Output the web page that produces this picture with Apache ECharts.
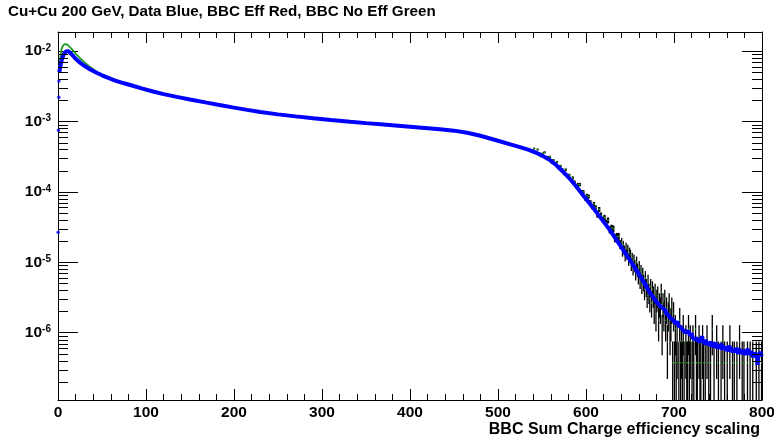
<!DOCTYPE html>
<html>
<head>
<meta charset="utf-8">
<title>BBC Sum Charge efficiency scaling</title>
<script src="https://cdn.jsdelivr.net/npm/echarts@6/dist/echarts.min.js"></script>
<style>
  html, body { margin: 0; padding: 0; background: #ffffff; }
  #chart { width: 774px; height: 447px; }
</style>
</head>
<body>
<div id="chart"></div>
<script>
// ---- axis ranges ----
const X_MIN = 0, X_MAX = 800, X_STEP = 100;
const Y_MIN = 1.107e-7, Y_MAX = 1.862e-2;

const titleText = 'Cu+Cu 200 GeV, Data Blue, BBC Eff Red, BBC No Eff Green';
const xAxisTitle = 'BBC Sum Charge efficiency scaling';

// ---- Data (blue): first bins sitting on the left edge ----
const blueEdgeX = [0.2, 0.5, 0.9, 1.1];
const blueEdgeY = [2.66e-5, 7.5e-4, 2.2e-3, 3.75e-3];

// ---- Data (blue): main curve ----
const blueX = [1.5, 2.3, 3, 4.2, 5.5, 6.8, 8, 9.5, 10.6, 12,
  14, 16.5, 20, 25, 30, 35, 40, 45, 50, 55,
  60, 65, 75, 85, 95, 108, 120, 135, 150, 169,
  185, 200, 215, 230, 250, 270, 290, 310, 332, 350,
  370, 390, 410, 434, 450, 465, 480, 487, 500, 512,
  525, 535, 545, 552, 559, 566, 574, 582, 589, 596,
  603, 610, 618, 627, 635, 642, 650, 657, 665, 672, 680, 685];
const blueY = [5.0e-3, 5.7e-3, 6.3e-3, 7.4e-3, 8.3e-3, 9.2e-3, 9.7e-3, 9.95e-3, 1.0e-2, 9.9e-3,
  9.4e-3, 8.7e-3, 7.76e-3, 6.84e-3, 6.17e-3, 5.62e-3, 5.19e-3, 4.83e-3, 4.52e-3, 4.25e-3,
  4.01e-3, 3.80e-3, 3.48e-3, 3.21e-3, 2.95e-3, 2.66e-3, 2.44e-3, 2.23e-3, 2.05e-3, 1.85e-3,
  1.70e-3, 1.57e-3, 1.46e-3, 1.36e-3, 1.26e-3, 1.18e-3, 1.11e-3, 1.05e-3, 9.9e-4, 9.46e-4,
  9.04e-4, 8.63e-4, 8.22e-4, 7.73e-4, 7.40e-4, 6.92e-4, 6.27e-4, 5.92e-4, 5.31e-4, 4.81e-4,
  4.32e-4, 3.94e-4, 3.51e-4, 3.18e-4, 2.83e-4, 2.40e-4, 1.93e-4, 1.51e-4, 1.19e-4, 9.2e-5,
  7.1e-5, 5.5e-5, 4.07e-5, 2.88e-5, 2.04e-5, 1.51e-5, 1.07e-5, 7.8e-6, 5.4e-6, 3.8e-6, 2.75e-6, 2.34e-6];

// ---- Data (blue): tail, one bin per unit from 690 to 800 ----
const blueTailStart = 690;
const blueTail = [
  2.09e-6, 1.89e-6, 2.00e-6, 1.85e-6, 1.75e-6, 1.82e-6, 1.61e-6, 1.68e-6, 1.71e-6, 1.52e-6,
  1.51e-6, 1.54e-6, 1.34e-6, 1.43e-6, 1.45e-6, 1.26e-6, 1.28e-6, 1.31e-6, 1.19e-6, 1.26e-6,
  1.10e-6, 1.15e-6, 1.17e-6, 1.00e-6, 1.05e-6, 1.07e-6, 9.8e-7, 1.07e-6, 9.1e-7, 9.5e-7,
  9.8e-7, 8.55e-7, 8.8e-7, 9.0e-7, 7.9e-7, 8.5e-7, 9.0e-7, 7.9e-7, 8.4e-7, 7.35e-7,
  7.9e-7, 8.2e-7, 8.9e-7, 7.2e-7, 7.8e-7, 6.8e-7, 7.9e-7, 7.2e-7, 6.8e-7, 7.5e-7,
  6.8e-7, 7.2e-7, 7.45e-7, 6.3e-7, 6.8e-7, 7.1e-7, 6.3e-7, 7.3e-7, 6.5e-7, 6.0e-7,
  6.7e-7, 6.95e-7, 6.0e-7, 6.4e-7, 7.0e-7, 5.75e-7, 6.4e-7, 6.1e-7, 6.6e-7, 5.7e-7,
  6.4e-7, 5.4e-7, 6.0e-7, 6.55e-7, 5.5e-7, 6.0e-7, 6.3e-7, 5.3e-7, 5.8e-7, 6.0e-7,
  5.3e-7, 6.1e-7, 5.5e-7, 5.0e-7, 5.85e-7, 5.6e-7, 6.05e-7, 5.1e-7, 5.6e-7, 4.9e-7,
  5.75e-7, 5.2e-7, 4.85e-7, 5.5e-7, 5.9e-7, 4.9e-7, 5.2e-7, 4.6e-7, 5.4e-7, 5.0e-7,
  4.5e-7, 5.2e-7, 5.45e-7, 4.6e-7, 5.0e-7, 3.5e-7, 5.2e-7, 4.6e-7, 5.4e-7, 4.7e-7,
  5.0e-7];

// ---- BBC No Eff (green): smooth part ----
const greenX = [1.5, 2.3, 3, 4, 5, 6, 7.5, 9, 10.5, 12,
  14, 16.5, 20, 25, 30, 35, 40, 45, 50, 55,
  60, 65, 75, 85, 95, 108, 120, 135, 150, 169,
  185, 200, 215, 230, 250, 270, 290, 310, 332, 350,
  370, 390, 410, 434, 450, 465, 480, 487, 500, 512, 525, 540];
const greenY = [5.5e-3, 7.0e-3, 8.8e-3, 1.05e-2, 1.16e-2, 1.22e-2, 1.25e-2, 1.26e-2, 1.24e-2, 1.19e-2,
  1.12e-2, 1.04e-2, 9.2e-3, 7.9e-3, 6.95e-3, 6.15e-3, 5.5e-3, 5.0e-3, 4.62e-3, 4.3e-3,
  4.04e-3, 3.82e-3, 3.49e-3, 3.22e-3, 2.96e-3, 2.67e-3, 2.45e-3, 2.24e-3, 2.06e-3, 1.86e-3,
  1.71e-3, 1.58e-3, 1.47e-3, 1.37e-3, 1.27e-3, 1.19e-3, 1.12e-3, 1.06e-3, 1.0e-3, 9.55e-4,
  9.12e-4, 8.7e-4, 8.3e-4, 7.8e-4, 7.47e-4, 6.98e-4, 6.33e-4, 5.98e-4, 5.36e-4, 4.86e-4, 4.38e-4, 3.75e-4];

// ---- Histogram with errors: bins of width 2 from 540 to 640 ----
const histAStart = 540, histAWidth = 2;
const histAVal = [
  4.12e-4, 3.66e-4, 3.99e-4, 3.54e-4, 3.21e-4, 3.51e-4, 3.64e-4, 3.00e-4, 3.11e-4, 3.15e-4,
  2.60e-4, 2.82e-4, 2.55e-4, 2.65e-4, 2.18e-4, 2.32e-4, 2.09e-4, 1.81e-4, 2.06e-4, 1.73e-4,
  1.72e-4, 1.47e-4, 1.58e-4, 1.38e-4, 1.18e-4, 1.27e-4, 1.27e-4, 1.00e-4, 9.98e-5, 8.07e-5,
  8.81e-5, 8.57e-5, 7.10e-5, 6.15e-5, 6.71e-5, 5.96e-5, 4.71e-5, 5.64e-5, 4.67e-5, 4.05e-5,
  4.32e-5, 3.64e-5, 3.95e-5, 2.90e-5, 3.08e-5, 2.99e-5, 2.21e-5, 2.32e-5, 2.32e-5, 1.80e-5];
const histAErr = [
  1.24e-5, 1.17e-5, 1.24e-5, 1.17e-5, 1.09e-5, 1.16e-5, 1.16e-5, 1.05e-5, 1.09e-5, 1.10e-5,
  9.9e-6, 1.02e-5, 9.7e-6, 1.01e-5, 8.9e-6, 9.3e-6, 8.8e-6, 8.3e-6, 8.9e-6, 8.1e-6,
  8.1e-6, 7.4e-6, 7.7e-6, 7.2e-6, 6.6e-6, 6.9e-6, 6.9e-6, 6.1e-6, 6.1e-6, 5.5e-6,
  5.7e-6, 5.7e-6, 5.2e-6, 4.8e-6, 5.0e-6, 4.7e-6, 4.2e-6, 4.6e-6, 4.2e-6, 3.9e-6,
  4.0e-6, 3.7e-6, 3.8e-6, 3.3e-6, 3.4e-6, 3.4e-6, 2.9e-6, 2.9e-6, 2.9e-6, 2.6e-6];

// ---- Histogram with errors: bins of width 1 from 640 to 800 (0 = empty bin) ----
const histBStart = 640, histBWidth = 1;
const histBVal = [
  1.95e-5, 1.43e-5, 1.76e-5, 1.5e-5, 1.24e-5, 1.65e-5, 1.31e-5, 1.54e-5, 1.09e-5, 1.39e-5,
  1.28e-5, 9.38e-6, 1.16e-5, 8.25e-6, 1.09e-5, 9.0e-6, 7.13e-6, 1.01e-5, 7.88e-6, 6.38e-6,
  8.63e-6, 5.63e-6, 7.5e-6, 4.88e-6, 6.75e-6, 5.25e-6, 4.13e-6, 6.0e-6, 4.5e-6, 3.38e-6,
  5.25e-6, 3.75e-6, 3.0e-6, 4.5e-6, 2.63e-6, 4.13e-6, 3.38e-6, 2.25e-6, 3.75e-6, 1.88e-6,
  3.0e-6, 3.38e-6, 1.5e-6, 2.63e-6, 2.25e-6, 3.75e-6, 1.13e-6, 2.63e-6, 1.88e-6, 3.0e-6,
  1.5e-6, 2.25e-6, 7.5e-7, 1.88e-6, 2.63e-6, 1.13e-6, 1.5e-6, 2.25e-6, 3.75e-7, 1.88e-6,
  3.75e-7, 1.13e-6, 3.75e-7, 7.5e-7, 0, 3.75e-7, 1.5e-6, 3.75e-7, 7.5e-7, 3.75e-7,
  1.13e-6, 3.75e-7, 0, 7.5e-7, 3.75e-7, 3.75e-7, 1.13e-6, 3.75e-7, 7.5e-7, 0,
  3.75e-7, 7.5e-7, 3.75e-7, 0, 1.13e-6, 3.75e-7, 3.75e-7, 0, 7.5e-7, 3.75e-7,
  3.75e-7, 0, 7.5e-7, 3.75e-7, 0, 3.75e-7, 0, 7.5e-7, 0, 3.75e-7,
  0, 3.75e-7, 0, 1.13e-6, 0, 3.75e-7, 0, 0, 7.5e-7, 0,
  3.75e-7, 0, 0, 3.75e-7, 0, 7.5e-7, 0, 3.75e-7, 0, 0,
  3.75e-7, 0, 0, 7.5e-7, 0, 0, 3.75e-7, 0, 3.75e-7, 0,
  0, 3.75e-7, 0, 0, 7.5e-7, 0, 0, 3.75e-7, 0, 3.75e-7,
  0, 0, 0, 3.75e-7, 0, 0, 3.75e-7, 0, 0, 3.75e-7,
  0, 0, 0, 3.75e-7, 0, 0, 3.75e-7, 0, 0, 3.75e-7];
const histBErr = [
  2.7e-6, 2.31e-6, 2.57e-6, 2.37e-6, 2.15e-6, 2.49e-6, 2.22e-6, 2.4e-6, 2.02e-6, 2.28e-6,
  2.19e-6, 1.88e-6, 2.09e-6, 1.76e-6, 2.02e-6, 1.84e-6, 1.63e-6, 1.95e-6, 1.72e-6, 1.55e-6,
  1.8e-6, 1.45e-6, 1.68e-6, 1.35e-6, 1.59e-6, 1.4e-6, 1.24e-6, 1.5e-6, 1.3e-6, 1.13e-6,
  1.4e-6, 1.19e-6, 1.06e-6, 1.3e-6, 9.9e-7, 1.24e-6, 1.13e-6, 9.2e-7, 1.19e-6, 8.4e-7,
  1.06e-6, 1.13e-6, 7.5e-7, 9.9e-7, 9.2e-7, 1.19e-6, 6.5e-7, 9.9e-7, 8.4e-7, 1.06e-6,
  7.5e-7, 9.2e-7, 5.3e-7, 8.4e-7, 9.9e-7, 6.5e-7, 7.5e-7, 9.2e-7, 3.75e-7, 8.4e-7,
  3.75e-7, 6.5e-7, 3.75e-7, 5.3e-7, 0, 3.75e-7, 7.5e-7, 3.75e-7, 5.3e-7, 3.75e-7,
  6.5e-7, 3.75e-7, 0, 5.3e-7, 3.75e-7, 3.75e-7, 6.5e-7, 3.75e-7, 5.3e-7, 0,
  3.75e-7, 5.3e-7, 3.75e-7, 0, 6.5e-7, 3.75e-7, 3.75e-7, 0, 5.3e-7, 3.75e-7,
  3.75e-7, 0, 5.3e-7, 3.75e-7, 0, 3.75e-7, 0, 5.3e-7, 0, 3.75e-7,
  0, 3.75e-7, 0, 6.5e-7, 0, 3.75e-7, 0, 0, 5.3e-7, 0,
  3.75e-7, 0, 0, 3.75e-7, 0, 5.3e-7, 0, 3.75e-7, 0, 0,
  3.75e-7, 0, 0, 5.3e-7, 0, 0, 3.75e-7, 0, 3.75e-7, 0,
  0, 3.75e-7, 0, 0, 5.3e-7, 0, 0, 3.75e-7, 0, 3.75e-7,
  0, 0, 0, 3.75e-7, 0, 0, 3.75e-7, 0, 0, 3.75e-7,
  0, 0, 0, 3.75e-7, 0, 0, 3.75e-7, 0, 0, 3.75e-7];

// ---- log-axis minor tick values (2..9 x 10^n) ----
const yMinorTicks = [];
for (let e = -7; e <= -3; e++) {
  for (let m = 2; m <= 9; m++) {
    const v = m * Math.pow(10, e);
    if (v > Y_MIN && v < Y_MAX) yMinorTicks.push(v);
  }
}

// ---- assemble series data ----
const zip = (xs, ys) => xs.map((x, i) => [x, ys[i]]);
const blueData = zip(blueX, blueY).concat(blueTail.map((v, i) => [blueTailStart + i, v]));
const greenData = zip(greenX, greenY);

const histBins = [];
histAVal.forEach((v, i) => histBins.push({ x: histAStart + (i + 0.5) * histAWidth, w: histAWidth, v: v, e: histAErr[i] }));
histBVal.forEach((v, i) => histBins.push({ x: histBStart + (i + 0.5) * histBWidth, w: histBWidth, v: v, e: histBErr[i] }));
const filled = histBins.filter(b => b.v > 0);
const errorBarData = filled.map(b => [b.x, Math.max(b.v - b.e, Y_MIN), b.v + b.e, b.w]);
const greenBinData = filled.map(b => [b.x, b.v, b.w / 2]);

const FONT = '"Liberation Sans", Arial, Helvetica, sans-serif';
const INK = '#000000';
const BLUE = '#0000ff';
const GREEN = '#1e9b1e';

const chart = echarts.init(document.getElementById('chart'), null, { renderer: 'canvas' });

const xAxisCommon = {
  type: 'value', min: X_MIN, max: X_MAX, interval: X_STEP,
  axisLine: { show: true, onZero: false, lineStyle: { color: INK, width: 1 } },
  axisTick: { show: true, inside: true, length: 11, lineStyle: { color: INK, width: 1 } },
  minorTick: { show: true, splitNumber: 5, length: 6, lineStyle: { color: INK, width: 1 } },
  splitLine: { show: false }, minorSplitLine: { show: false }
};
const yAxisCommon = {
  type: 'log', logBase: 10, min: Y_MIN, max: Y_MAX,
  axisLine: { show: true, onZero: false, lineStyle: { color: INK, width: 1 } },
  axisTick: { show: true, inside: true, length: 20, lineStyle: { color: INK, width: 1 } },
  splitLine: { show: false }
};

const option = {
  animation: false,
  backgroundColor: '#ffffff',
  title: {
    text: titleText, left: 3, top: -1,
    textStyle: { fontFamily: FONT, fontSize: 15.2, fontWeight: 'bold', color: INK }
  },
  grid: { left: 58, right: 12, top: 32, bottom: 47, containLabel: false, outerBoundsMode: 'none' },
  xAxis: [
    Object.assign({}, xAxisCommon, {
      position: 'bottom',
      name: xAxisTitle, nameLocation: 'end', nameGap: -2,
      nameTextStyle: { fontFamily: FONT, fontSize: 16, fontWeight: 'bold', color: INK,
        align: 'right', verticalAlign: 'top', padding: [22, 0, 0, 0] },
      axisLabel: { show: true, margin: 5, fontFamily: FONT, fontSize: 15.5, fontWeight: 'bold', color: INK }
    }),
    Object.assign({}, xAxisCommon, { position: 'top', axisLabel: { show: false } })
  ],
  yAxis: [
    Object.assign({}, yAxisCommon, {
      position: 'left',
      axisLabel: {
        show: true, margin: 7,
        formatter: function (v) {
          const e = Math.log10(v);
          const r = Math.round(e);
          if (Math.abs(e - r) > 1e-6) return '';
          return '{b|10}{s|' + r + '}';
        },
        rich: {
          b: { fontFamily: FONT, fontSize: 15.5, fontWeight: 'bold', color: INK },
          s: { fontFamily: FONT, fontSize: 10, fontWeight: 'bold', color: INK, verticalAlign: 'top' }
        }
      }
    }),
    Object.assign({}, yAxisCommon, { position: 'right', axisLabel: { show: false } })
  ],
  series: [
    {
      // error bars of the histogram
      type: 'custom', name: 'errors', xAxisIndex: 0, yAxisIndex: 0, clip: true, silent: true, z: 2,
      data: errorBarData, encode: { x: 0, y: [1, 2] },
      renderItem: function (params, api) {
        const lo = api.coord([api.value(0), api.value(1)]);
        const hi = api.coord([api.value(0), api.value(2)]);
        const w = Math.max(api.size([api.value(3), 0])[0] * 1.3, 1.3);
        return { type: 'rect', shape: { x: lo[0] - w / 2, y: hi[1], width: w, height: lo[1] - hi[1] },
          style: { fill: INK } };
      }
    },
    {
      type: 'line', name: 'BBC No Eff', data: greenData, xAxisIndex: 0, yAxisIndex: 0,
      showSymbol: false, clip: true, z: 3,
      lineStyle: { color: GREEN, width: 1.8 }, itemStyle: { color: GREEN }
    },
    {
      // histogram bin contents, tail region
      type: 'custom', name: 'BBC No Eff bins', xAxisIndex: 0, yAxisIndex: 0, clip: true, silent: true, z: 3,
      data: greenBinData, encode: { x: 0, y: 1 },
      renderItem: function (params, api) {
        const a = api.coord([api.value(0) - api.value(2), api.value(1)]);
        const b = api.coord([api.value(0) + api.value(2), api.value(1)]);
        return { type: 'line', shape: { x1: a[0], y1: a[1], x2: b[0], y2: b[1] },
          style: { stroke: GREEN, lineWidth: 1.5 } };
      }
    },
    {
      type: 'line', name: 'Data', data: blueData, xAxisIndex: 0, yAxisIndex: 0,
      showSymbol: false, clip: true, z: 4,
      lineStyle: { color: BLUE, width: 4 }, itemStyle: { color: BLUE }
    },
    {
      type: 'scatter', name: 'Data edge', data: zip(blueEdgeX, blueEdgeY), xAxisIndex: 0, yAxisIndex: 0,
      symbol: 'circle', symbolSize: 3.5, z: 4, itemStyle: { color: BLUE }
    },
    {
      // minor ticks of the logarithmic axes, both sides
      type: 'custom', name: 'minor ticks', xAxisIndex: 0, yAxisIndex: 0, silent: true, z: 10,
      data: yMinorTicks.map(v => [X_MIN, v]), encode: { x: 0, y: 1 },
      renderItem: function (params, api) {
        const l = api.coord([X_MIN, api.value(1)]);
        const r = api.coord([X_MAX, api.value(1)]);
        const y = Math.round(l[1]) + 0.5;
        return { type: 'group', children: [
          { type: 'line', shape: { x1: l[0], y1: y, x2: l[0] + 10, y2: y }, style: { stroke: INK, lineWidth: 1 } },
          { type: 'line', shape: { x1: r[0], y1: y, x2: r[0] - 10, y2: y }, style: { stroke: INK, lineWidth: 1 } }
        ] };
      }
    }
  ]
};

chart.setOption(option);
</script>
</body>
</html>
